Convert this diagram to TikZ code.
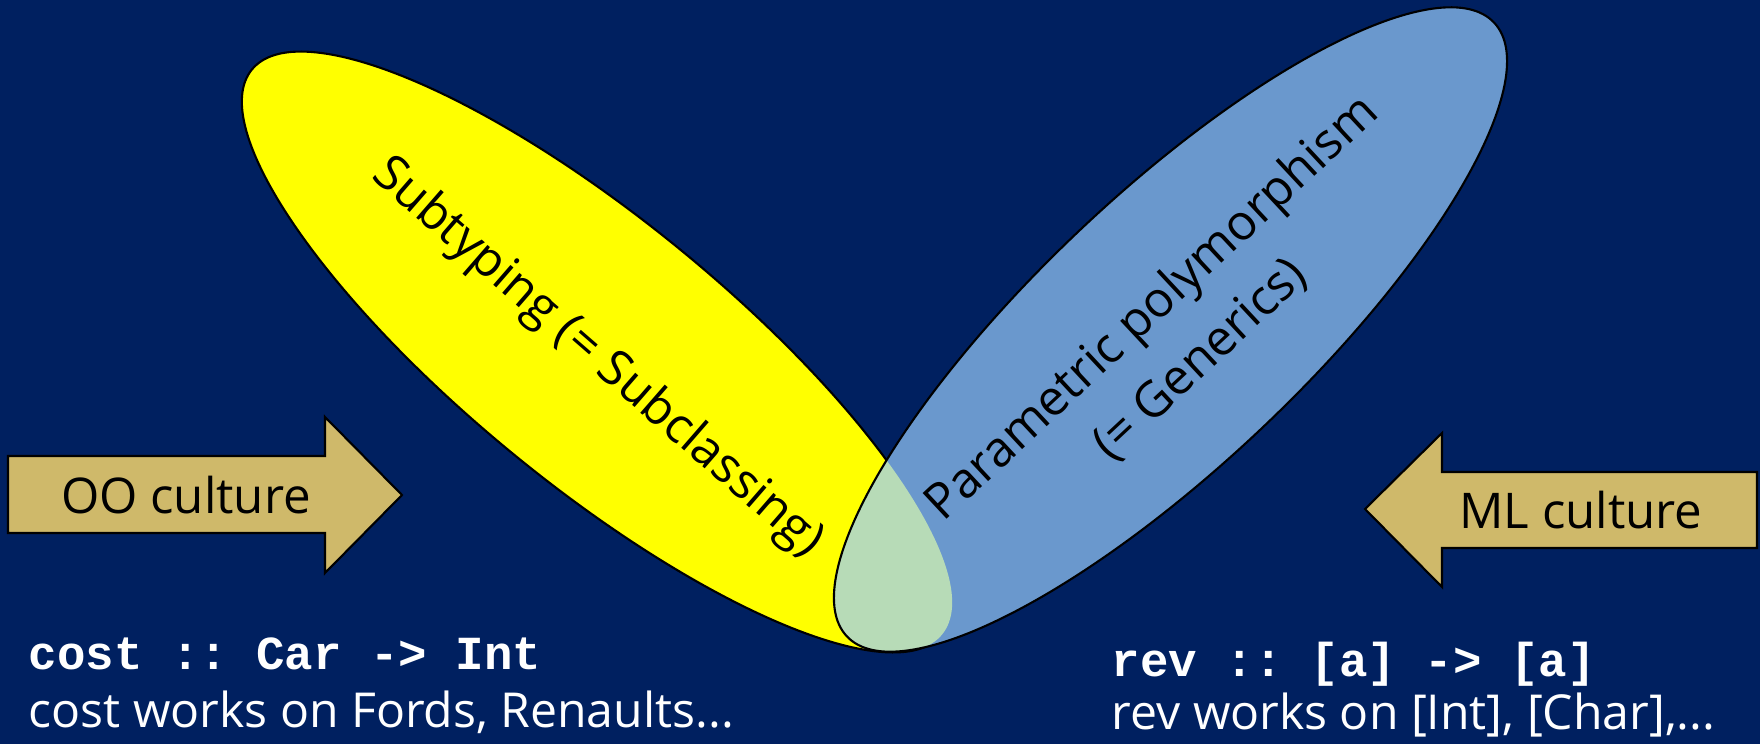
\documentclass[tikz,border=0pt]{standalone}
\usepackage{fontspec}
\setmainfont{Open Sans}
\setmonofont{Liberation Mono}
\usetikzlibrary{positioning}
\definecolor{slnavy}{HTML}{002060}
\definecolor{slyellow}{HTML}{FFFF00}
\definecolor{slblue}{HTML}{6A98CD}
\definecolor{slgreen}{HTML}{B7DBB7}
\definecolor{sltan}{HTML}{CFB96A}
\tikzset{
  oval/.style={draw=black, line width=0.6pt},
  culture/.style={fill=sltan, draw=black, line width=0.6pt, line join=miter},
  ovaltext/.style={font=\fontsize{14}{20}\selectfont, text=black, inner sep=0pt, align=center},
  codeline/.style={font=\fontsize{13.5}{16}\selectfont\ttfamily\bfseries, text=white, anchor=base west, inner sep=0pt},
  proseline/.style={font=\fontsize{13.7}{16}\selectfont, text=white, anchor=base west, inner sep=0pt}
}

\begin{document}
\begin{tikzpicture}
  \fill[slnavy] (0,0) rectangle (17.6,7.44);
  \useasboundingbox (0,0) rectangle (17.6,7.44);
  % the two ovals
  \fill[slyellow, shift={(5.97,3.92)}, rotate=-39.3] (0,0) ellipse [x radius=4.46, y radius=1.32];
  \draw[oval, shift={(5.97,3.92)}, rotate=-39.3] (0,0) ellipse [x radius=4.46, y radius=1.32];
  \fill[slblue, shift={(11.705,4.145)}, rotate=43.5] (0,0) ellipse [x radius=4.46, y radius=1.345];
  % overlap
  \begin{scope}
    \clip[shift={(5.97,3.92)}, rotate=-39.3] (0,0) ellipse [x radius=4.46, y radius=1.32];
    \fill[slgreen, shift={(11.705,4.145)}, rotate=43.5] (0,0) ellipse [x radius=4.46, y radius=1.345];
  \end{scope}
  \draw[oval, shift={(11.705,4.145)}, rotate=43.5] (0,0) ellipse [x radius=4.46, y radius=1.345];
  \node[ovaltext, rotate=-41] (subtyping) at (5.97,3.86) {Subtyping (= Subclassing)};
  \node[ovaltext, rotate=43] (generics) at (11.76,4.10) {Parametric polymorphism\\(= Generics)};
  % culture arrows
  \draw[culture] (0.08,2.88) -- (3.25,2.88) -- (3.25,3.27) -- (4.02,2.49)
    -- (3.25,1.71) -- (3.25,2.11) -- (0.08,2.11) -- cycle;
  \node[ovaltext] (oo) at (1.86,2.49) {OO culture};
  \draw[culture] (17.57,2.72) -- (14.42,2.72) -- (14.42,3.11) -- (13.65,2.35)
    -- (14.42,1.57) -- (14.42,1.96) -- (17.57,1.96) -- cycle;
  \node[ovaltext] (ml) at (15.81,2.34) {ML culture};
  % examples
  \node[codeline] (costtype) at (0.28,0.75) {cost :: Car -> Int};
  \node[proseline] (costtext) at (0.28,0.17) {cost works on Fords, Renaults...};
  \node[codeline] (revtype) at (11.11,0.68) {rev :: [a] -> [a]};
  \node[proseline] (revtext) at (11.11,0.15) {rev works on [Int], [Char],...};
\end{tikzpicture}
\end{document}
